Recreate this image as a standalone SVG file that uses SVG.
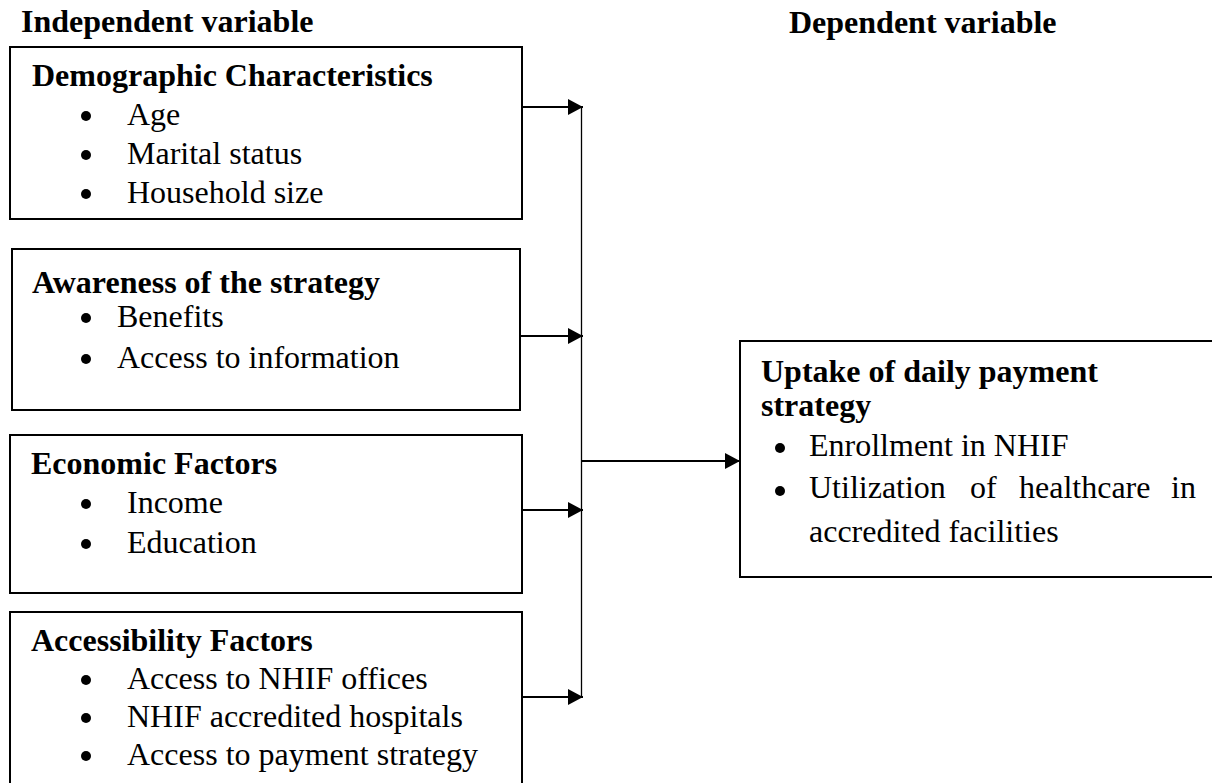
<svg xmlns="http://www.w3.org/2000/svg" width="1212" height="783" viewBox="0 0 1212 783">
<style>
text{font-family:"Liberation Serif","Times New Roman",serif;font-size:32px;fill:#000}
.b{font-weight:bold}
.box{fill:#fff;stroke:#000;stroke-width:2}
.bul{fill:#000}
.arr{stroke:#000;stroke-width:2.2;fill:none}
.vl{stroke:#000;stroke-width:1.3;fill:none}
</style>
<defs>
<marker id="ah" markerUnits="userSpaceOnUse" markerWidth="16" markerHeight="16" refX="15" refY="8" orient="auto">
<path d="M0,0 L15,8 L0,16 Z" fill="#000"/>
</marker>
</defs>
<rect width="1212" height="783" fill="#fff"/>
<text class="b" x="21" y="32">Independent variable</text>
<text class="b" x="789" y="33">Dependent variable</text>
<g id="demographic">
<rect class="box" x="10" y="47" width="512" height="172"/>
<text class="b" x="32" y="86">Demographic Characteristics</text>
<circle class="bul" cx="86" cy="116" r="5"/><text x="127" y="125">Age</text>
<circle class="bul" cx="86" cy="155" r="5"/><text x="127" y="164">Marital status</text>
<circle class="bul" cx="86" cy="194" r="5"/><text x="127" y="203">Household size</text>
</g>
<g id="awareness">
<rect class="box" x="12" y="249" width="508" height="161"/>
<text class="b" x="32" y="293">Awareness of the strategy</text>
<circle class="bul" cx="86" cy="318" r="5"/><text x="117" y="327">Benefits</text>
<circle class="bul" cx="86" cy="359" r="5"/><text x="117" y="368">Access to information</text>
</g>
<g id="economic">
<rect class="box" x="10" y="435" width="512" height="158"/>
<text class="b" x="31" y="474">Economic Factors</text>
<circle class="bul" cx="86" cy="504" r="5"/><text x="127" y="513">Income</text>
<circle class="bul" cx="86" cy="544" r="5"/><text x="127" y="553">Education</text>
</g>
<g id="accessibility">
<rect class="box" x="10" y="612" width="512" height="200"/>
<text class="b" x="31" y="651">Accessibility Factors</text>
<circle class="bul" cx="86" cy="680" r="5"/><text x="127" y="689">Access to NHIF offices</text>
<circle class="bul" cx="86" cy="718" r="5"/><text x="127" y="727">NHIF accredited hospitals</text>
<circle class="bul" cx="86" cy="756" r="5"/><text x="127" y="765">Access to payment strategy</text>
</g>
<g id="uptake">
<rect class="box" x="740" y="341" width="490" height="236"/>
<text class="b" x="761" y="382">Uptake of daily payment</text>
<text class="b" x="761" y="416">strategy</text>
<circle class="bul" cx="780" cy="448" r="5"/><text x="809" y="456">Enrollment in NHIF</text>
<circle class="bul" cx="780" cy="491" r="5"/><text y="498"><tspan x="809">Utilization</tspan><tspan x="970">of</tspan><tspan x="1019">healthcare</tspan><tspan x="1171">in</tspan></text>
<text x="809" y="542">accredited facilities</text>
</g>
<g id="connectors">
<line class="arr" x1="522" y1="107" x2="583" y2="107" marker-end="url(#ah)"/>
<line class="arr" x1="520" y1="336" x2="583" y2="336" marker-end="url(#ah)"/>
<line class="arr" x1="522" y1="510" x2="583" y2="510" marker-end="url(#ah)"/>
<line class="arr" x1="522" y1="697" x2="583" y2="697" marker-end="url(#ah)"/>
<line class="vl" x1="581.5" y1="107" x2="581.5" y2="697"/>
<line class="arr" x1="582" y1="461" x2="740" y2="461" marker-end="url(#ah)"/>
</g>
</svg>
